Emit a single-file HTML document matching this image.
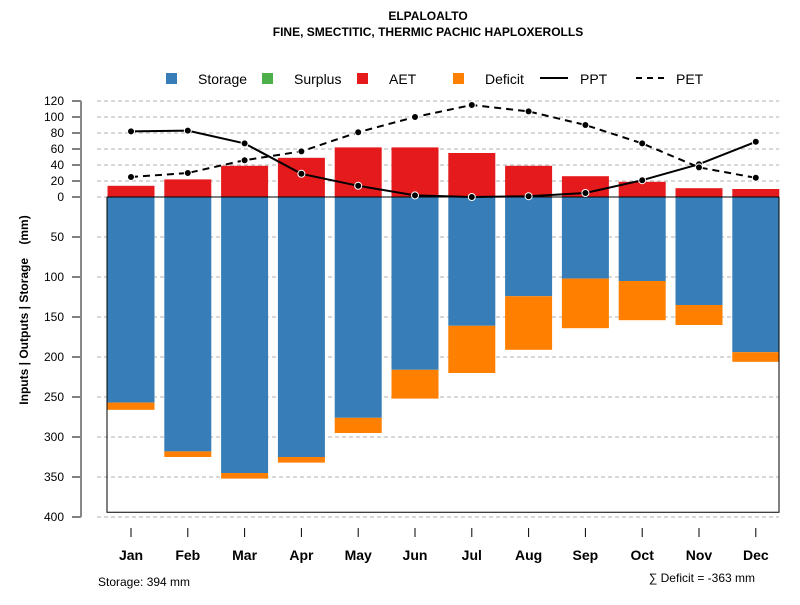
<!DOCTYPE html>
<html><head><meta charset="utf-8"><style>
body{margin:0;background:#fff}
svg{font-family:"Liberation Sans",Arial,sans-serif}
</style></head><body>
<svg id="c" width="800" height="600" xmlns="http://www.w3.org/2000/svg">
<text x="428" y="20" text-anchor="middle" font-size="12" font-weight="bold">ELPALOALTO</text>
<text x="428" y="36" text-anchor="middle" font-size="12" font-weight="bold">FINE, SMECTITIC, THERMIC PACHIC HAPLOXEROLLS</text>
<g id="legend" font-size="14">
 <g><rect x="166" y="73" width="11" height="11" fill="#377eb8"/><text x="198" y="84">Storage</text></g>
 <g><rect x="262" y="73" width="11" height="11" fill="#4daf4a"/><text x="294" y="84">Surplus</text></g>
 <g><rect x="357" y="73" width="11" height="11" fill="#e41a1c"/><text x="389" y="84">AET</text></g>
 <g><rect x="453" y="73" width="11" height="11" fill="#ff7f00"/><text x="485" y="84">Deficit</text></g>
 <g><line x1="540" y1="78" x2="568" y2="78" stroke="#000" stroke-width="2"/><text x="580" y="84">PPT</text></g>
 <g><line x1="636" y1="78" x2="664" y2="78" stroke="#000" stroke-width="2" stroke-dasharray="6,5"/><text x="676" y="84">PET</text></g>
</g>
<text transform="translate(28,310) rotate(-90)" text-anchor="middle" font-size="12" font-weight="bold">Inputs | Outputs | Storage&#160;&#160;&#160;&#160;(mm)</text>
<g id="grid"></g><g id="bars"></g><g id="axes"></g><g id="lines"></g>
<text x="98" y="586" font-size="12">Storage: 394 mm</text>
<text x="755" y="582" text-anchor="end" font-size="12">∑ Deficit = -363 mm</text>
</svg>
<script>
const months=["Jan","Feb","Mar","Apr","May","Jun","Jul","Aug","Sep","Oct","Nov","Dec"];
const aet=[14,22,39,49,62,62,55,39,26,19,11,10];
const storage=[257,318,345,325,276,216,161,124,102,105,135,194];
const deficit=[9,7,7,7,19,36,59,67,62,49,25,12];
const ppt=[82,83,67,29,14,2,0,1,5,21,41,69];
const pet=[25,30,46,57,81,100,115,107,90,67,37,24];
const posTicks=[0,20,40,60,80,100,120];
const negTicks=[50,100,150,200,250,300,350,400];
const storageMax=394;
const NS="http://www.w3.org/2000/svg";
const y0=197,k=0.8;
function yUp(v){return y0-v*k;}
function yDown(v){return y0+v*k;}
function xc(i){return 131+i*56.8;}
function mk(p,t,a){const e=document.createElementNS(NS,t);for(const q in a)e.setAttribute(q,a[q]);p.appendChild(e);return e;}
const G=document.getElementById('grid'),B=document.getElementById('bars'),A=document.getElementById('axes'),L=document.getElementById('lines');
function tick(y,lab){
 const g=mk(G,'line',{x1:97,x2:779,y1:y,y2:y,stroke:'#b0b0b0','stroke-dasharray':'4,3'});
 
 
 mk(A,'line',{x1:72,x2:81,y1:y,y2:y,stroke:'#000'});
 const t=mk(A,'text',{x:64,y:y+4,'text-anchor':'end','font-size':12});t.textContent=lab;
 
 
}
posTicks.forEach(v=>tick(yUp(v),v));
negTicks.forEach(v=>tick(yDown(v),v));
mk(A,'line',{x1:81,x2:81,y1:yUp(120),y2:yDown(400),stroke:'#888','stroke-width':2});
months.forEach((m,i)=>{
 const x=xc(i),w=47;
 const r1=mk(B,'rect',{x:x-w/2,y:yUp(aet[i]),width:w,height:aet[i]*k,fill:'#e41a1c'});
 
 
 const r2=mk(B,'rect',{x:x-w/2,y:y0,width:w,height:storage[i]*k,fill:'#377eb8'});
 
 
 const r3=mk(B,'rect',{x:x-w/2,y:yDown(storage[i]),width:w,height:deficit[i]*k,fill:'#ff7f00'});
 
 
 mk(A,'line',{x1:x,x2:x,y1:528,y2:537,stroke:'#000'});
 const t=mk(A,'text',{x:x,y:560,'text-anchor':'middle','font-size':14,'font-weight':'bold'});t.textContent=m;
 
 
});
mk(A,'polyline',{points:`107,${y0} 107,${yDown(storageMax)} 779,${yDown(storageMax)} 779,${y0}`,fill:'none',stroke:'#000'});
mk(A,'line',{x1:107,x2:779,y1:y0,y2:y0,stroke:'#000'});
function series(d,dash,name){
 const pl=mk(L,'polyline',{points:d.map((v,i)=>xc(i)+','+yUp(v)).join(' '),fill:'none',stroke:'#000','stroke-width':2,'stroke-dasharray':dash});
 
 
 d.forEach((v,i)=>{const c=mk(L,'circle',{cx:xc(i),cy:yUp(v),r:3.5,fill:'#000',stroke:'#fff','stroke-width':1});
 
 });
}
series(ppt,'none','ppt');
series(pet,'7,5','pet');
</script>
</body></html>
